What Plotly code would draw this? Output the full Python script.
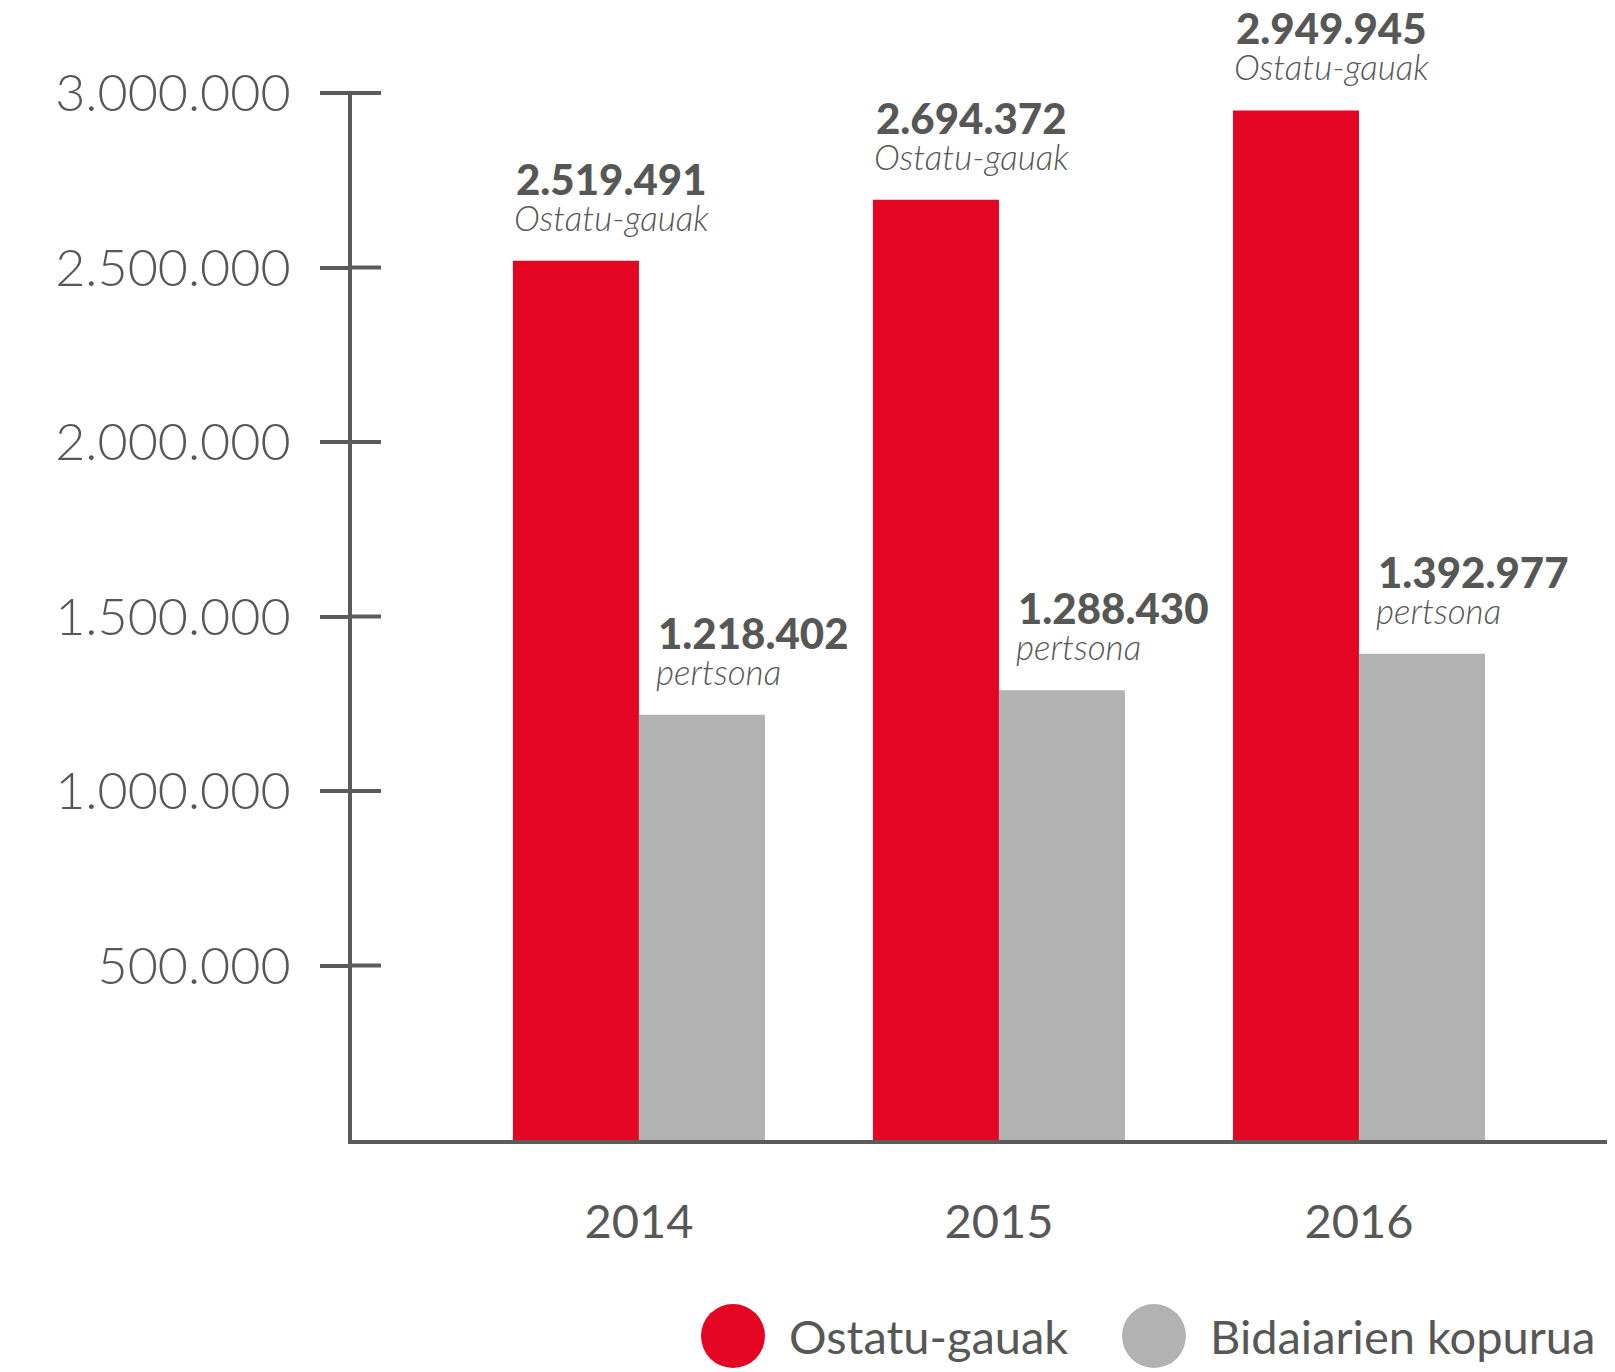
import plotly.graph_objects as go

# ---- data ----
years = ["2014", "2015", "2016"]
series_names = ["Ostatu-gauak", "Bidaiarien kopurua"]
ostatu_gauak = [2519491, 2694372, 2949945]
bidaiariak = [1218402, 1288430, 1392977]
label_units = ["Ostatu-gauak", "pertsona"]
y_tickvals = [500000, 1000000, 1500000, 2000000, 2500000, 3000000]

RED = "#E30521"
GRAY = "#B2B2B2"
AXIS = "#5B5B5B"
TXT = "#575756"
FONT = "Lato"

W, H = 1615, 1372
ML, MR, MT, MB = 352, 8, 91, 232
PW, PH = W - ML - MR, H - MT - MB
YMAX = 3005730  # small headroom so the top tick is not clipped

fig = go.Figure()
fig.add_trace(go.Bar(x=years, y=ostatu_gauak, name=series_names[0],
                     marker=dict(color=RED, line=dict(width=0))))
fig.add_trace(go.Bar(x=years, y=bidaiariak, name=series_names[1],
                     marker=dict(color=GRAY, line=dict(width=0))))

def fmt(v):
    return f"{v:,}".replace(",", ".")

annotations = []
group_w = 0.7
for s, (vals, unit, dx) in enumerate([(ostatu_gauak, label_units[0], 1),
                                      (bidaiariak, label_units[1], 17)]):
    for i, v in enumerate(vals):
        xleft = i - group_w / 2 + s * group_w / 2
        annotations.append(dict(
            x=xleft, y=v, xref="x", yref="y", xanchor="left", yanchor="bottom",
            xshift=dx, yshift=55, showarrow=False, text=fmt(v),
            font=dict(family=FONT, size=42, color=TXT, weight=900)))
        annotations.append(dict(
            x=xleft, y=v, xref="x", yref="y", xanchor="left", yanchor="bottom",
            xshift=dx - 2, yshift=21, showarrow=False, text=unit,
            font=dict(family=FONT, size=35, color=TXT, weight=300, style="italic")))

shapes = []
# inner half of the y-axis ticks (ticks cross the axis line)
for tv in y_tickvals:
    shapes.append(dict(type="line", xref="paper", yref="y", xsizemode="pixel", xanchor=0,
                       x0=0, x1=29, y0=tv, y1=tv, line=dict(color=AXIS, width=4)))

# custom legend (large circular swatches)
legend_items = [(series_names[0], RED, 733, 787), (series_names[1], GRAY, 1154, 1208)]
ly = 1336
for name, col, cx, tx in legend_items:
    shapes.append(dict(type="circle", xref="paper", yref="paper",
                       xsizemode="pixel", ysizemode="pixel",
                       xanchor=(cx - ML) / PW, yanchor=(H - MB - ly) / PH,
                       x0=-32, x1=32, y0=-32, y1=32,
                       fillcolor=col, line=dict(width=0)))
    annotations.append(dict(x=(tx - ML) / PW, y=(H - MB - ly) / PH, xref="paper", yref="paper",
                            xanchor="left", yanchor="middle", showarrow=False, text=name,
                            font=dict(family=FONT, size=47, color=TXT, weight=400)))

fig.update_layout(
    width=W, height=H,
    margin=dict(l=ML, r=MR, t=MT, b=MB, pad=0),
    paper_bgcolor="white", plot_bgcolor="white",
    barmode="group", bargap=0.3, bargroupgap=0,
    showlegend=False,
    separators=",.",
    annotations=annotations, shapes=shapes,
    xaxis=dict(type="category", range=[-0.797, 2.689], showgrid=False, zeroline=False,
               showline=True, linecolor=AXIS, linewidth=4, ticks="",
               ticklabelstandoff=38,
               tickfont=dict(family=FONT, size=47, color=TXT, weight=400)),
    yaxis=dict(range=[0, YMAX], tickvals=y_tickvals, tickformat=",.0f",
               showgrid=False, zeroline=False, showline=True, linecolor=AXIS, linewidth=4,
               ticks="outside", ticklen=28, tickwidth=4, tickcolor=AXIS,
               ticklabelstandoff=19,
               tickfont=dict(family=FONT, size=52, color=TXT, weight=300)),
)

fig.write_html("out.html", config={"displayModeBar": False},
               post_script="document.body.style.margin='0';")
